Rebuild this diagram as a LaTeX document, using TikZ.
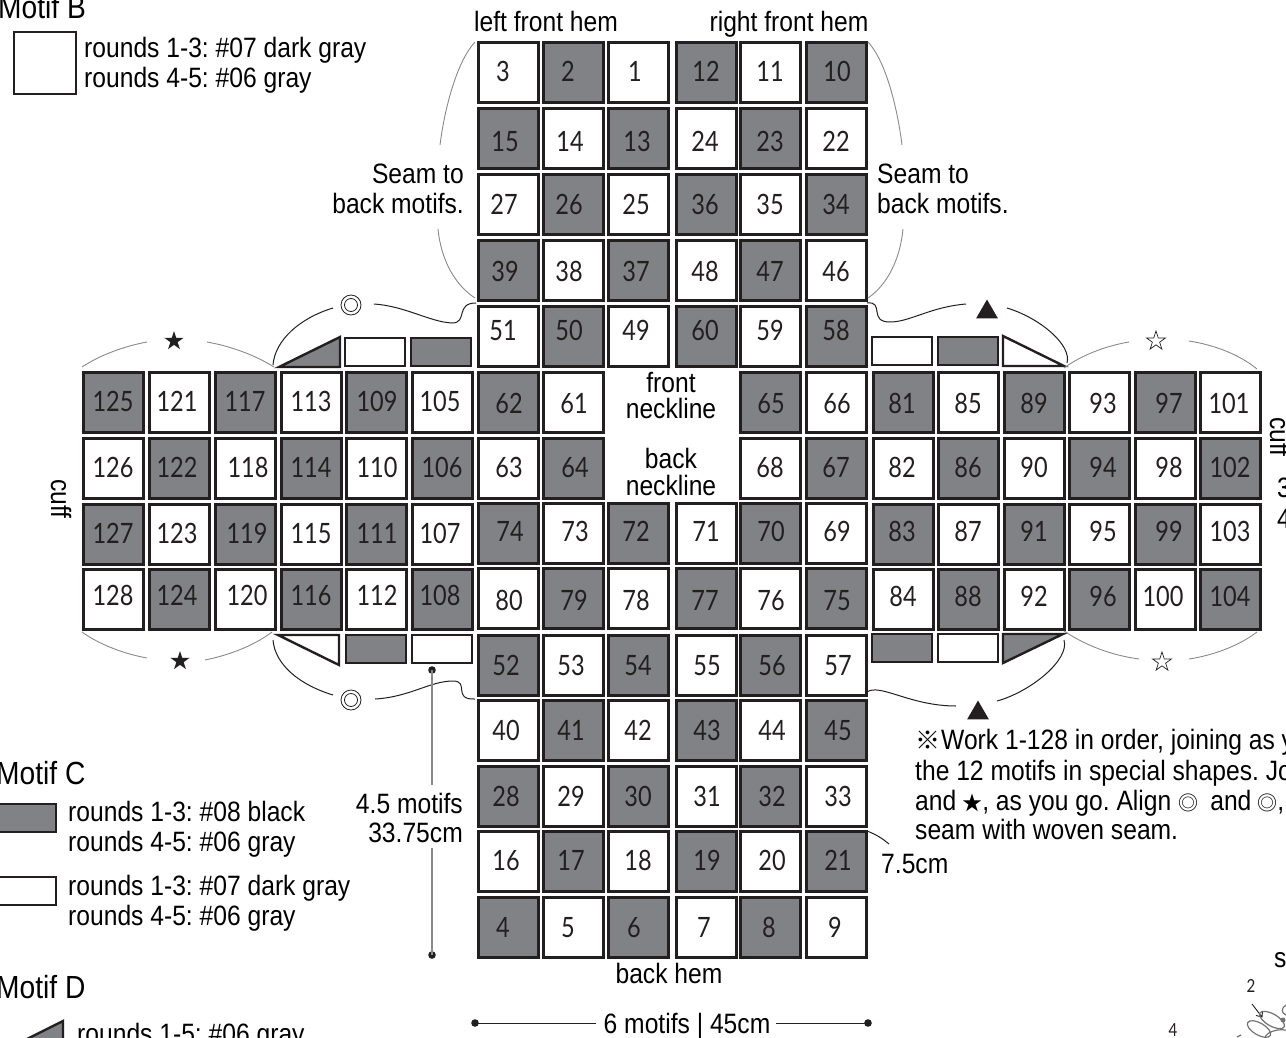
\documentclass[tikz,border=0pt]{standalone}
\usepackage{fontspec}
\setmainfont[FakeStretch=0.88]{Liberation Sans}
\newfontfamily\numfont[FakeStretch=0.84]{Lato}
\newfontfamily\cjkfont{Noto Sans CJK SC}
\usetikzlibrary{shapes.geometric}
\definecolor{mgray}{HTML}{808285}
\definecolor{ink}{HTML}{231F20}
\definecolor{arcgray}{HTML}{8A8A8A}
\frenchspacing
\tikzset{
 cellw/.style={draw=ink,line width=3pt,fill=white,minimum width=60pt,minimum height=60pt,inner sep=0pt,outer sep=0pt},
 cellg/.style={cellw,fill=mgray},
 stripw/.style={draw=ink,line width=2.6pt,fill=white,minimum width=60pt,minimum height=28pt,inner sep=0pt},
 stripg/.style={stripw,fill=mgray},
 tri/.style={draw=ink,line width=2.4pt,line join=miter},
 num/.style={font=\numfont\fontsize{28}{28}\selectfont,text=ink,inner sep=0pt,text height=20pt,text depth=0pt},
 smallnum/.style={font=\numfont\fontsize{18}{18}\selectfont,text=ink,inner sep=0pt,text height=13pt,text depth=0pt},
 lab/.style={font=\fontsize{28}{28}\selectfont,text=black,inner sep=0pt,text height=20pt,text depth=0pt},
 big/.style={lab,font=\fontsize{32}{32}\selectfont,text height=23pt},
 thinb/.style={draw=ink,line width=1pt},
 thing/.style={draw=arcgray,line width=.9pt},
 loopy/.style={draw=black!55,line width=1.2pt}
}
\newcommand{\mcell}[6]{\node[#1] (c#4) at (#2,#3) {}; \node[num] (n#4) at (#5,#6) {#4};}
\newcommand{\sym}[1]{{\cjkfont\fontsize{20}{20}\selectfont #1}}
\newcommand{\row}[2]{\foreach \cx/\st/\nm/\lx in {#2}{\mcell{cell\st}{\cx}{#1}{\nm}{\lx}{\rowly}}}
\begin{document}
\begin{tikzpicture}[x=1pt,y=-1pt]
\useasboundingbox (0,0) rectangle (1286,1037);
\clip (0,0) rectangle (1286,1037);
% main column
\def\rowly{71}\row{72.5}{508/w/3/503,573/g/2/568,638/w/1/635,706/g/12/706,770.5/w/11/770,836/g/10/837}
\def\rowly{141}\row{138.5}{508/g/15/505,573/w/14/570,638/g/13/637,706/w/24/705,770.5/g/23/770,836/w/22/836}
\def\rowly{204}\row{204}{508/w/27/504,573/g/26/569,638/w/25/636,706/g/36/705,770.5/w/35/770,836/g/34/836}
\def\rowly{271}\row{270}{508/g/39/505,573/w/38/569,638/g/37/636,706/w/48/705,770.5/g/47/770,836/w/46/836}
\def\rowly{330}\row{336}{508/w/51/503,573/g/50/569,638/w/49/636,706/g/60/705,770.5/w/59/770,836/g/58/836}
\def\rowly{403}\row{402}{508/g/62/509,573/w/61/574,770.5/g/65/771,836/w/66/837}
\def\rowly{467}\row{468}{508/w/63/509,573/g/64/575,770.5/w/68/770,836/g/67/836}
\def\rowly{531}\row{533}{508/g/74/510,573/w/73/575,638/g/72/636,706/w/71/706,770.5/g/70/771,836/w/69/837}
\def\rowly{600}\row{598.5}{508/w/80/509,573/g/79/574,638/w/78/636,706/g/77/705,770.5/w/76/771,836/g/75/837}
\def\rowly{665}\row{665}{508/g/52/506,573/w/53/571,638/g/54/638,706/w/55/707,770.5/g/56/772,836/w/57/838}
\def\rowly{730}\row{730}{508/w/40/506,573/g/41/571,638/w/42/638,706/g/43/707,770.5/w/44/772,836/g/45/838}
\def\rowly{796}\row{796}{508/g/28/506,573/w/29/571,638/g/30/638,706/w/31/707,770.5/g/32/772,836/w/33/838}
\def\rowly{860}\row{861}{508/w/16/506,573/g/17/571,638/w/18/638,706/g/19/707,770.5/w/20/772,836/g/21/838}
\def\rowly{927}\row{927}{508/g/4/503,573/w/5/568,638/g/6/634,706/w/7/704,770.5/g/8/769,836/w/9/835}
% left arm
\def\rowly{401}\row{402}{113/g/125/113,179/w/121/177,245/g/117/245,311/w/113/311,376/g/109/377,442/w/105/440}
\def\rowly{467}\row{468}{113/w/126/113,179/g/122/177,245/w/118/248,311/g/114/311,376/w/110/377,442/g/106/442}
\def\rowly{533}\row{534}{113/g/127/113,179/w/123/177,245/g/119/247,311/w/115/311,376/g/111/377,442/w/107/440}
\def\rowly{595}\row{599}{113/w/128/113,179/g/124/177,245/w/120/247,311/g/116/311,376/w/112/377,442/g/108/440}
% right arm
\def\rowly{403}\row{402}{903/g/81/902,968/w/85/968,1034/g/89/1034,1099/w/93/1103,1165/g/97/1169,1230/w/101/1229}
\def\rowly{467}\row{468}{903/w/82/902,968/g/86/968,1034/w/90/1034,1099/g/94/1103,1165/w/98/1169,1230/g/102/1230}
\def\rowly{531}\row{534}{903/g/83/902,968/w/87/968,1034/g/91/1034,1099/w/95/1103,1165/g/99/1169,1230/w/103/1230}
\def\rowly{596}\row{599}{903/w/84/903,968/g/88/968,1034/w/92/1034,1099/g/96/1103,1165/w/100/1163,1230/g/104/1230}
% special strips
\draw[tri,fill=mgray] (340,337)--(340,367)--(279,367)--cycle;
\node[stripw] (s1) at (375,352) {};
\node[stripg] (s2) at (441,352) {};
\node[stripw] (s3) at (902,351) {};
\node[stripg] (s4) at (968,351) {};
\draw[tri,fill=white] (1003,336)--(1003,366)--(1064,366)--cycle;
\draw[tri,fill=white] (278,635)--(339,635)--(339,665)--cycle;
\node[stripg] (s5) at (376,649) {};
\node[stripw] (s6) at (442,649) {};
\node[stripg] (s7) at (902,648) {};
\node[stripw] (s8) at (968,648) {};
\draw[tri,fill=mgray] (1003,634)--(1063,634)--(1003,663)--cycle;
% symbols
\foreach \nm/\sx/\sy in {dc1/351/305,dc2/351/700}{
 \node[draw=ink,line width=.8pt,circle,minimum size=20pt,inner sep=0pt] (\nm) at (\sx,\sy) {};
 \node[draw=ink,line width=.8pt,circle,minimum size=13pt,inner sep=0pt] (\nm i) at (\sx,\sy) {};
}
\node[draw=none,fill=ink,regular polygon,regular polygon sides=3,minimum size=25pt,inner sep=0pt] (t1) at (987,312) {};
\node[draw=none,fill=ink,regular polygon,regular polygon sides=3,minimum size=25pt,inner sep=0pt] (t2) at (978,713) {};
\tikzset{stfull/.style={star,star points=5,star point ratio=2.618,minimum size=20pt,inner sep=0pt,fill=ink},
 stopen/.style={star,star points=5,star point ratio=2.618,minimum size=20pt,inner sep=0pt,draw=ink,line width=.7pt,fill=white}}
\node[stfull] (st1) at (174,341) {};
\node[stfull] (st2) at (180,661) {};
\node[stopen] (st3) at (1156,341) {};
\node[stopen] (st4) at (1162,662) {};
% curves
\draw[thinb] (273,365) .. controls (275,340) and (300,318) .. (333,308);
\draw[thinb] (374,304) .. controls (405,306) and (430,322) .. (452,323) .. controls (468,323) and (455,303) .. (476,303);
\draw[thinb] (867,303) .. controls (885,301) and (868,322) .. (890,322) .. controls (910,322) and (930,307) .. (966,304);
\draw[thinb] (1007,308) .. controls (1040,318) and (1072,345) .. (1067,363);
\draw[thinb] (273,640) .. controls (275,665) and (300,685) .. (333,695);
\draw[thinb] (375,699) .. controls (410,697) and (430,681) .. (453,681) .. controls (470,681) and (452,700) .. (475,699);
\draw[thinb] (867,692) .. controls (880,683) and (910,706) .. (956,706);
\draw[thinb] (997,701) .. controls (1030,692) and (1070,660) .. (1064,640);
\draw[thing] (82,367) .. controls (100,355) and (125,346) .. (147,342);
\draw[thing] (207,342) .. controls (230,346) and (255,355) .. (274,367);
\draw[thing] (1064,368) .. controls (1080,356) and (1105,346) .. (1129,342);
\draw[thing] (1189,341) .. controls (1215,345) and (1240,355) .. (1257,369);
\draw[thing] (82,632) .. controls (100,645) and (125,654) .. (147,658);
\draw[thing] (205,660) .. controls (230,655) and (255,645) .. (272,632);
\draw[thing] (1064,631) .. controls (1085,645) and (1110,655) .. (1139,659);
\draw[thing] (1189,659) .. controls (1215,655) and (1240,645) .. (1257,632);
\draw[thing] (475,42) .. controls (458,60) and (445,105) .. (440,145);
\draw[thing] (438,229) .. controls (441,260) and (455,285) .. (475,298);
\draw[thing] (868,42) .. controls (885,60) and (897,105) .. (902,145);
\draw[thing] (903,229) .. controls (900,260) and (887,285) .. (868,298);
\draw[thinb] (867,831) .. controls (875,834) and (882,838) .. (889,844);
% labels
\node[lab] (lh) at (546,21) {left front hem};
\node[lab] (rh) at (789,21) {right front hem};
\node[lab,anchor=east] (sl1) at (464,173) {Seam to};
\node[lab,anchor=east] (sl2) at (464,203) {back motifs.};
\node[lab,anchor=west] (sr1) at (877,173) {Seam to};
\node[lab,anchor=west] (sr2) at (877,203) {back motifs.};
\node[lab] (fn1) at (671,382) {front};
\node[lab] (fn2) at (671,408) {neckline};
\node[lab] (bn1) at (671,458) {back};
\node[lab] (bn2) at (671,485) {neckline};
\node[lab] (bh) at (669,973) {back hem};
\node[lab,rotate=-90] (cl) at (61,499) {cuff};
\node[lab,rotate=-90] (cr) at (1280,437) {cuff};
\node[lab,anchor=west] (three) at (1277,487) {3};
\node[lab,anchor=west] (fourb) at (1277,518) {4};
\node[lab,anchor=east] (d1) at (463,803) {4.5 motifs};
\node[lab,anchor=east] (d2) at (463,832) {33.75cm};
\node[lab,anchor=west] (d3) at (881,863) {7.5cm};
\node[lab] (d4) at (687,1023) {6 motifs | 45cm};
% dimension lines
\coordinate (va) at (432,670);
\coordinate (vb) at (432,955);
\coordinate (ha) at (475,1023);
\coordinate (hb) at (868,1023);
\fill[ink] (va) circle (3.8pt) (vb) circle (3.8pt) (ha) circle (3.8pt) (hb) circle (3.8pt);
\draw[thing,line width=1.2pt] (va) -- (432,785) (432,848) -- (vb);
\draw[thinb] (ha) -- (596,1023) (776,1023) -- (hb);
% note
\node[lab,anchor=west] (nt1) at (915,739) {{\cjkfont\fontsize{25}{25}\selectfont ※}\hspace{1pt}Work 1-128 in order, joining as y};
\node[lab,anchor=west] (nt2) at (915,770) {the 12 motifs in special shapes. Jo};
\node[lab,anchor=west] (nt3) at (915,800) {and\hspace{6pt}\sym{★}, as you go. Align\hspace{7pt}\sym{◎}\hspace{12pt}and\hspace{6pt}\sym{◎},};
\node[lab,anchor=west] (nt4) at (915,829) {seam with woven seam.};
% legends
\node[big,anchor=west] (mb) at (-2,7) {Motif B};
\node[draw=ink,line width=2pt,minimum size=62pt,inner sep=0pt] (lb) at (45,63) {};
\node[lab,anchor=west] (lb1) at (84,47) {rounds 1-3: \#07 dark gray};
\node[lab,anchor=west] (lb2) at (84,77) {rounds 4-5: \#06 gray};
\node[big,anchor=west] (mc) at (-4,773) {Motif C};
\node[stripg,line width=2pt] (lc1) at (26,818) {};
\node[lab,anchor=west] (lc11) at (68,811) {rounds 1-3: \#08 black};
\node[lab,anchor=west] (lc12) at (68,841) {rounds 4-5: \#06 gray};
\node[stripw,line width=2pt] (lc2) at (26,891) {};
\node[lab,anchor=west] (lc21) at (68,885) {rounds 1-3: \#07 dark gray};
\node[lab,anchor=west] (lc22) at (68,915) {rounds 4-5: \#06 gray};
\node[big,anchor=west] (md) at (-4,987) {Motif D};
\draw[tri,fill=mgray] (63,1021)--(63,1050)--(5,1050)--cycle;
\node[lab,anchor=west] (ld1) at (77,1033) {rounds 1-5: \#06 gray};
% corner fragment
\node[lab,anchor=west] (sx) at (1274,957) {s};
\node[smallnum] (two) at (1251,986) {2};
\node[smallnum] (four) at (1173,1030) {4};
\draw[ink,line width=.9pt] (1252,1004) -- (1262,1017) (1256,1015.5) -- (1262,1017) -- (1262.5,1011);
\draw[loopy,rotate around={-30:(1272,1020)}] (1272,1020) ellipse (14pt and 6pt);
\draw[loopy,rotate around={-30:(1259,1029)}] (1259,1029) ellipse (13pt and 6pt);
\draw[loopy,rotate around={10:(1278,1036)}] (1278,1036) ellipse (13pt and 6pt);
\fill[black!55] (1283,1020) circle (2.5pt);
\draw[loopy] (1286,1005) .. controls (1281,1008) and (1281,1013) .. (1286,1015);
\draw[loopy] (1237,1037) -- (1241,1035);
\end{tikzpicture}
\end{document}
